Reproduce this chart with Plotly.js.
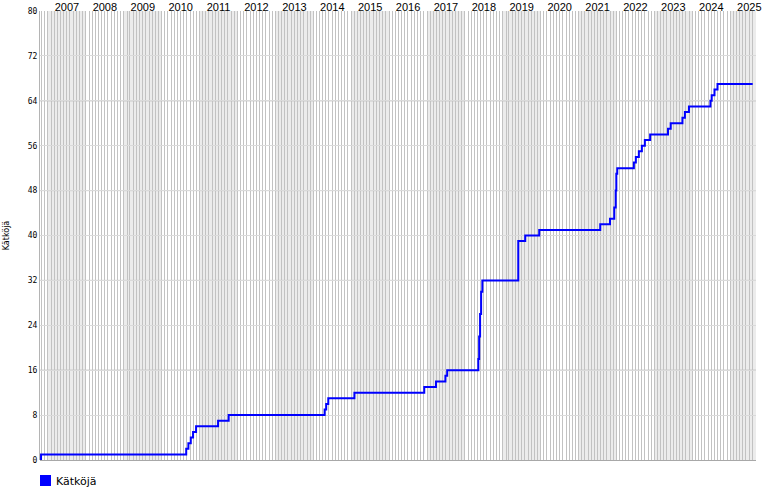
<!DOCTYPE html>
<html><head><meta charset="utf-8">
<script src="https://cdn.plot.ly/plotly-3.0.1.min.js"></script>
<style>html,body{margin:0;padding:0;background:#fff}#chart{width:770px;height:500px}</style>
</head><body><div id="chart"></div>
<script>
const seriesName = 'Kätköjä';
const dates = [
  '2006-10-17','2006-10-26',
  '2010-08-25','2010-09-15','2010-10-08','2010-10-30','2010-11-28',
  '2011-06-28','2011-10-08',
  '2014-04-20','2014-05-05','2014-05-25',
  '2015-02-01',
  '2016-12-05','2017-03-28','2017-06-27','2017-07-14',
  '2018-05-10','2018-05-18','2018-05-27','2018-06-06','2018-06-18',
  '2019-05-30','2019-08-05','2019-12-18',
  '2021-07-28','2021-10-30','2021-12-10','2021-12-24','2021-12-30','2022-01-08',
  '2022-06-17','2022-07-06','2022-08-04','2022-09-02','2022-10-01','2022-11-21',
  '2023-05-12','2023-06-07',
  '2023-09-28','2023-10-22','2023-11-30',
  '2024-06-24','2024-07-06','2024-08-02','2024-08-31',
  '2025-08-05'
];
const caches = [
  0,1,
  2,3,4,5,6,
  7,8,
  9,10,11,
  12,
  13,14,15,16,
  18,22,26,30,32,
  39,40,41,
  42,43,45,48,51,52,
  53,54,55,56,57,58,
  59,60,
  61,62,63,
  64,65,66,67,
  67
];
const yTickValues = [0,8,16,24,32,40,48,56,64,72,80];
const yStrongGrid = [16,32,48,64];
const shadedYears = [2007,2009,2011,2013,2015,2017,2019,2021,2023,2025];
const xRange = ['2006-10-16','2025-09-06'];

const shapes = shadedYears.map(y => ({
  type:'rect', xref:'x', yref:'paper', x0: y + '-01-01', x1: (y + 1) + '-01-01',
  y0:0, y1:1, fillcolor:'#ececec', line:{width:0}, layer:'below'
}));
yStrongGrid.forEach(v => shapes.push({
  type:'line', xref:'paper', yref:'y', x0:0, x1:1, y0:v, y1:v,
  line:{color:'#b4b4b4', width:1}, layer:'between'
}));
// legend swatch
shapes.push({type:'rect', xref:'paper', yref:'paper', x0:0, x1:11/716, y0:-26/449, y1:-15/449,
  fillcolor:'#0000ff', line:{width:0}});

const trace = {
  x: dates, y: caches, type:'scatter', mode:'lines', name: seriesName,
  line:{color:'#0000ff', width:2, shape:'hv'}, showlegend:false,
  hoverinfo:'x+y'
};

const layout = {
  width:770, height:500,
  margin:{l:40, r:14, t:11, b:40},
  paper_bgcolor:'#ffffff', plot_bgcolor:'#ffffff',
  showlegend:false,
  xaxis:{
    type:'date', range:xRange, side:'top', tick0:'2007-01-01', dtick:'M12',
    ticklabelmode:'period', tickformat:'%Y', ticks:'', ticklabelstandoff:-3,
    showgrid:true, gridcolor:'#c2c2c2', gridwidth:1,
    minor:{dtick:'M1', showgrid:true, gridcolor:'#c2c2c2', gridwidth:1, ticks:''},
    showline:false, zeroline:false,
    tickfont:{family:'Liberation Sans, Arial, sans-serif', size:11, color:'#000'}
  },
  yaxis:{
    range:[0,80], tickvals:yTickValues, ticktext:yTickValues.map(String), ticks:'',
    showgrid:true, gridcolor:'#dadada', gridwidth:1,
    zeroline:true, zerolinecolor:'#a8a8a8', zerolinewidth:1,
    showline:true, linecolor:'#b4b4b4', linewidth:1,
    tickfont:{family:'DejaVu Sans Mono, monospace', size:8, color:'#000'},
    title:{text:seriesName, standoff:16, font:{family:'DejaVu Sans, sans-serif', size:8, color:'#000'}}
  },
  shapes: shapes,
  annotations:[{
    xref:'paper', yref:'paper', x:14/716, y:-21/449, xanchor:'left', yanchor:'middle',
    text:seriesName, showarrow:false,
    font:{family:'DejaVu Sans, sans-serif', size:11, color:'#000'}
  }]
};

Plotly.newPlot('chart', [trace], layout, {staticPlot:true, displayModeBar:false});
</script>
</body></html>
